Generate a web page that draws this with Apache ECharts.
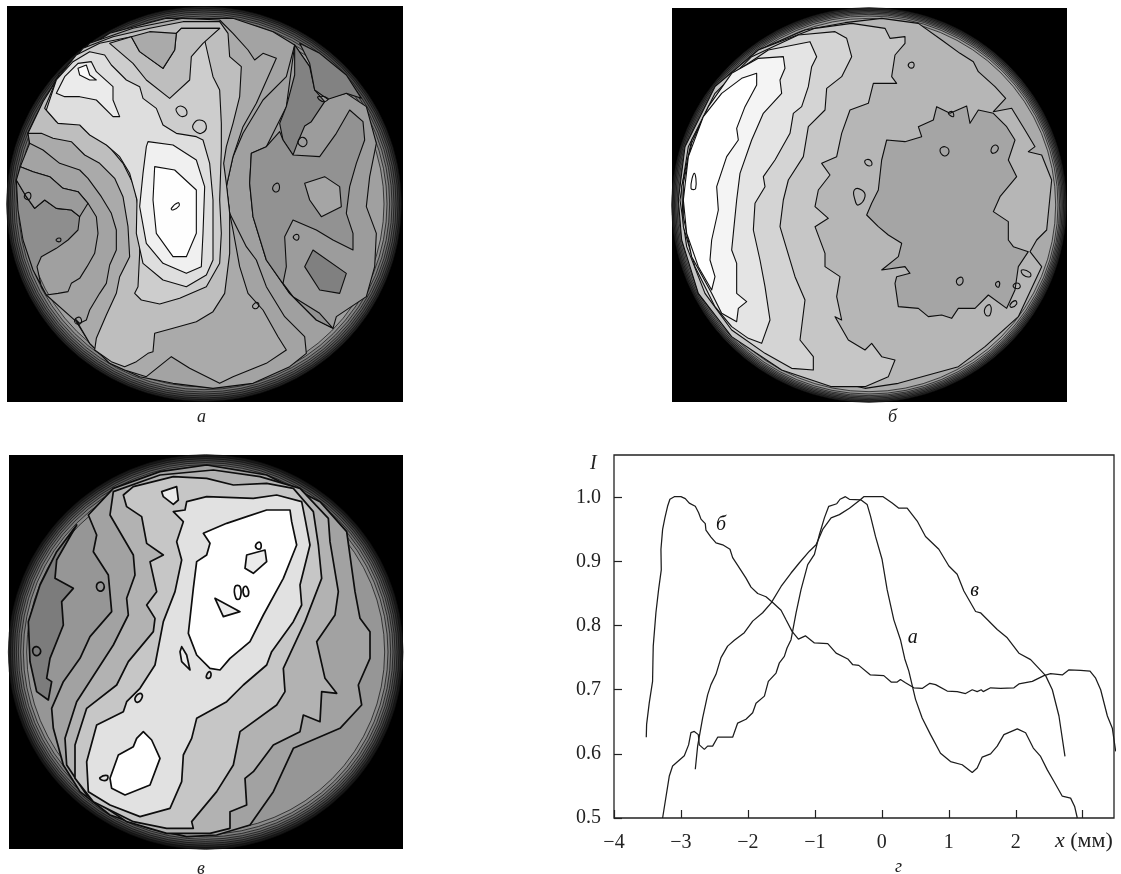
<!DOCTYPE html>
<html><head><meta charset="utf-8">
<style>html,body{margin:0;padding:0;background:#fff}#c{width:1121px;height:874px}</style>
<script src="https://cdn.jsdelivr.net/npm/echarts@6/dist/echarts.min.js"></script></head>
<body><div id="c"></div>
<script>
// ---------- profile curves I(x) ----------
const curveA = [[-3.274,0.5],[-3.175,0.565],[-3.125,0.581],[-2.95,0.597],[-2.886,0.614],[-2.851,0.633],[-2.801,0.635],[-2.741,0.63],[-2.726,0.614],[-2.651,0.607],[-2.602,0.612],[-2.527,0.612],[-2.452,0.626],[-2.228,0.626],[-2.153,0.648],[-2.029,0.654],[-1.929,0.664],[-1.879,0.679],[-1.754,0.69],[-1.695,0.713],[-1.58,0.726],[-1.53,0.742],[-1.456,0.752],[-1.416,0.765],[-1.356,0.778],[-1.281,0.82],[-1.207,0.856],[-1.107,0.895],[-1.007,0.911],[-0.932,0.942],[-0.858,0.968],[-0.793,0.986],[-0.673,0.99],[-0.624,0.997],[-0.544,1.001],[-0.484,0.997],[-0.31,0.996],[-0.22,0.989],[-0.17,0.971],[-0.095,0.939],[0.004,0.903],[0.079,0.856],[0.179,0.809],[0.278,0.778],[0.343,0.748],[0.403,0.729],[0.503,0.685],[0.602,0.656],[0.727,0.63],[0.876,0.601],[1.026,0.588],[1.2,0.583],[1.35,0.571],[1.424,0.578],[1.499,0.595],[1.624,0.6],[1.723,0.612],[1.823,0.63],[2.023,0.639],[2.147,0.633],[2.262,0.609],[2.371,0.596],[2.471,0.575],[2.571,0.557],[2.695,0.534],[2.819,0.531],[2.879,0.518],[2.919,0.5]];
const curveB = [[-3.518,0.626],[-3.513,0.646],[-3.474,0.679],[-3.424,0.713],[-3.419,0.742],[-3.414,0.768],[-3.374,0.82],[-3.334,0.856],[-3.294,0.887],[-3.299,0.919],[-3.274,0.95],[-3.24,0.968],[-3.2,0.986],[-3.165,0.997],[-3.1,1.001],[-3.0,1.001],[-2.935,0.998],[-2.876,0.991],[-2.786,0.986],[-2.736,0.976],[-2.701,0.966],[-2.637,0.959],[-2.627,0.949],[-2.552,0.938],[-2.477,0.929],[-2.377,0.926],[-2.268,0.919],[-2.228,0.906],[-2.128,0.89],[-2.029,0.874],[-1.954,0.86],[-1.854,0.85],[-1.73,0.845],[-1.63,0.836],[-1.505,0.824],[-1.431,0.809],[-1.341,0.791],[-1.246,0.779],[-1.142,0.784],[-1.007,0.773],[-0.808,0.772],[-0.683,0.757],[-0.509,0.748],[-0.434,0.739],[-0.344,0.738],[-0.17,0.723],[0.029,0.722],[0.139,0.712],[0.229,0.712],[0.278,0.716],[0.353,0.711],[0.478,0.703],[0.602,0.702],[0.717,0.71],[0.802,0.708],[0.976,0.698],[1.125,0.697],[1.25,0.694],[1.35,0.7],[1.424,0.697],[1.484,0.7],[1.514,0.697],[1.624,0.703],[1.773,0.702],[1.973,0.703],[2.047,0.709],[2.247,0.713],[2.421,0.722],[2.52,0.725],[2.695,0.723],[2.795,0.731],[2.969,0.73],[3.109,0.729],[3.193,0.718],[3.268,0.7],[3.368,0.659],[3.442,0.64],[3.492,0.604]];
const curveV = [[-2.786,0.576],[-2.751,0.612],[-2.726,0.627],[-2.676,0.656],[-2.602,0.692],[-2.552,0.708],[-2.477,0.724],[-2.402,0.75],[-2.303,0.768],[-2.203,0.777],[-2.054,0.789],[-1.929,0.807],[-1.78,0.82],[-1.655,0.835],[-1.505,0.861],[-1.356,0.882],[-1.231,0.898],[-1.082,0.916],[-0.982,0.926],[-0.883,0.95],[-0.758,0.968],[-0.634,0.973],[-0.484,0.983],[-0.335,0.995],[-0.27,1.001],[0.019,1.001],[0.154,0.991],[0.254,0.983],[0.378,0.983],[0.528,0.963],[0.652,0.939],[0.851,0.919],[1.001,0.893],[1.125,0.88],[1.225,0.854],[1.4,0.822],[1.474,0.82],[1.723,0.794],[1.873,0.781],[2.047,0.757],[2.222,0.747],[2.446,0.722],[2.546,0.7],[2.645,0.659],[2.735,0.596]];
const curveLabels = [[0.463,0.781,'а'],[-2.40,0.958,'б'],[1.385,0.854,'в']];
const yTicks = ['0.5','0.6','0.7','0.8','0.9','1.0'];

// ---------- contour maps: [grey, x,y pairs in image coordinates] ----------
const ringsA = [[592,35],[587,52],[582,68],[576,84],[570,100],[564,115],[557,130],[549,145],[540,160]];
const ringsB = [[592,40],[588,60],[584,80],[580,100],[576,120],[572,140],[567,155],[560,170]];
const ringsV = [[592,25],[586,42],[580,60],[574,78],[568,95],[562,110],[555,125],[547,138],[537,150]];
const discA = [613,612], discB = [612,615], discV = [617,621];

const contoursA = [
 [163,[[140,885],[175,880],[205,875],[215,850],[240,835],[262,800],[285,760],[295,700],[290,650],[265,610],[235,575],[190,565],[150,530],[100,515],[62,500],[90,430],[85,400],[135,325],[170,240],[230,165],[330,100],[500,55],[700,55],[820,95],[885,135],[860,230],[790,300],[730,400],[700,470],[680,560],[690,640],[715,690],[740,740],[770,780],[800,860],[855,950],[915,1010],[920,1060],[870,1100],[760,1150],[640,1165],[520,1150],[420,1130],[330,1090],[270,1030],[230,965]]],
 [142,[[50,540],[80,590],[105,625],[135,600],[170,625],[215,630],[240,650],[235,690],[205,720],[170,745],[125,770],[112,800],[125,860],[140,885],[100,810],[70,720],[55,630]]],
 [155,[[50,540],[62,500],[100,515],[150,530],[190,565],[235,575],[265,610],[240,650],[215,630],[170,625],[135,600],[105,625],[80,590]]],
 [170,[[90,430],[130,450],[180,490],[240,510],[265,535],[305,590],[335,640],[350,690],[350,750],[330,795],[320,850],[300,880],[270,930],[260,960],[240,970],[228,958],[270,1030],[330,1090],[375,1110],[440,1130],[515,1070],[570,1105],[660,1150],[700,1130],[800,1090],[860,1050],[835,1010],[790,930],[745,880],[720,800],[700,690],[690,640],[680,560],[700,470],[730,380],[770,310],[830,175],[790,160],[765,180],[745,150],[700,100],[660,60],[550,55],[400,85],[270,130],[180,220],[130,310],[85,400]]],
 [190,[[85,400],[125,400],[160,415],[215,425],[255,465],[300,490],[345,535],[370,590],[385,680],[390,770],[360,830],[350,880],[320,945],[290,1015],[285,1050],[335,1085],[375,1100],[410,1085],[445,1060],[460,1055],[465,1000],[520,985],[590,965],[640,935],[675,880],[690,760],[690,640],[680,550],[672,490],[680,440],[700,370],[720,290],[725,200],[690,170],[685,100],[660,65],[550,65],[450,85],[340,110],[250,145],[180,225],[130,305]]],
 [205,[[135,325],[170,365],[240,370],[270,400],[320,430],[370,490],[405,560],[420,650],[420,760],[415,860],[405,880],[425,900],[480,912],[540,895],[620,860],[660,790],[665,700],[660,600],[665,450],[665,370],[660,270],[640,230],[615,120],[660,85],[545,85],[530,100],[525,150],[490,205],[420,155],[395,110],[300,130],[230,165],[170,240]]],
 [190,[[330,130],[400,190],[440,240],[510,295],[570,240],[575,170],[610,130],[660,85],[545,85],[530,100],[525,150],[490,205],[420,155],[395,110]]],
 [170,[[395,110],[420,155],[490,205],[525,150],[530,100],[450,95]]],
 [222,[[270,155],[315,165],[335,195],[380,240],[420,260],[430,295],[470,325],[490,375],[530,400],[590,410],[610,420],[630,490],[640,600],[640,780],[620,825],[560,860],[490,840],[430,790],[410,700],[412,600],[390,520],[360,470],[320,435],[270,405],[240,375],[175,370],[140,330],[170,240],[220,185]]],
 [235,[[170,280],[195,290],[240,290],[290,300],[340,350],[360,350],[340,300],[340,260],[290,215],[275,185],[235,190],[195,230]]],
 [250,[[235,205],[260,195],[270,225],[290,240],[270,240],[240,225]]],
 [240,[[445,425],[520,435],[590,480],[615,560],[610,700],[605,800],[560,820],[490,790],[440,730],[420,620],[430,520],[440,440]]],
 [254,[[465,500],[525,510],[590,570],[590,700],[560,770],[520,770],[470,700],[460,600]]],
 [156,[[755,460],[800,440],[860,320],[885,135],[930,200],[945,270],[985,295],[1040,280],[1100,320],[1130,430],[1110,530],[1100,620],[1130,700],[1125,800],[1100,890],[1010,950],[1000,985],[950,960],[870,880],[800,780],[760,650],[750,550]]],
 [130,[[840,370],[860,320],[885,225],[885,135],[930,200],[945,270],[975,305],[935,365],[915,378],[895,425],[880,465],[850,420]]],
 [130,[[930,190],[945,270],[985,298],[1040,280],[1085,295],[1040,225],[960,160],[900,130]]],
 [146,[[755,460],[800,440],[840,395],[850,420],[880,465],[960,470],[1010,400],[1050,330],[1090,365],[1095,420],[1070,490],[1050,560],[1040,640],[1060,700],[1060,750],[1000,720],[950,690],[880,660],[855,710],[860,800],[850,850],[880,890],[960,940],[1000,985],[950,960],[870,880],[800,780],[760,650],[750,550]]],
 [165,[[915,550],[975,530],[1020,560],[1025,620],[965,650],[930,600]]],
 [128,[[940,750],[1040,820],[1020,880],[960,870],[915,800]]]
];
const loopsA = [[[530,325],[550,320],[562,340],[548,350],[535,342]],[[580,375],[600,360],[620,378],[605,400],[585,392]],[[895,425],[910,412],[922,428],[908,440]],[[820,560],[835,550],[838,570],[825,575]],[[75,585],[90,578],[92,595],[80,598]],[[515,625],[535,608],[538,618],[520,630]],[[760,915],[775,908],[775,922],[762,925]],[[225,960],[240,952],[245,968],[232,972]],[[170,718],[182,715],[182,724],[172,724]],[[882,708],[895,704],[896,718],[885,718]],[[955,290],[985,295],[975,305],[960,300]]];

const contoursB = [
 [182,[[540,68],[650,55],[760,70],[830,120],[885,160],[925,185],[940,215],[990,260],[1022,295],[985,335],[1040,325],[1080,390],[1110,440],[1090,455],[1130,465],[1160,540],[1145,690],[1115,720],[1095,755],[1130,800],[1060,950],[960,1040],[880,1100],[700,1150],[600,1165],[400,1120],[200,1000],[100,880],[60,740],[45,600],[70,440],[150,280],[280,150],[420,90]]],
 [198,[[660,85],[675,115],[720,110],[720,130],[690,165],[680,230],[695,250],[625,250],[610,310],[555,330],[530,400],[515,470],[470,490],[495,525],[460,570],[450,620],[490,655],[450,680],[480,760],[480,800],[525,830],[515,890],[530,960],[510,950],[550,1020],[600,1050],[620,1030],[650,1070],[690,1080],[670,1130],[600,1160],[500,1160],[350,1110],[200,1010],[100,880],[50,720],[40,600],[60,440],[150,260],[280,150],[450,85],[560,70]]],
 [212,[[510,95],[545,115],[560,170],[530,230],[485,265],[480,330],[430,380],[415,470],[370,540],[355,600],[345,680],[360,730],[390,830],[420,900],[405,1020],[445,1070],[445,1110],[380,1105],[300,1060],[200,990],[120,880],[65,740],[45,600],[70,440],[150,280],[260,170],[400,105]]],
 [228,[[435,125],[455,170],[440,200],[430,260],[410,320],[385,340],[375,400],[330,480],[295,530],[300,560],[270,610],[265,690],[285,780],[300,860],[315,960],[290,1030],[250,1015],[200,980],[150,920],[90,800],[55,680],[50,560],[80,420],[140,310],[220,210],[310,150]]],
 [244,[[355,170],[360,205],[345,240],[350,280],[295,340],[260,420],[225,520],[215,600],[205,700],[200,750],[215,790],[215,880],[245,905],[220,925],[215,965],[170,940],[140,880],[80,770],[55,650],[55,550],[80,430],[130,320],[200,220],[280,175]]],
 [255,[[275,220],[275,255],[240,320],[215,385],[220,420],[185,470],[155,560],[160,630],[140,720],[135,780],[150,830],[140,870],[100,800],[65,700],[55,600],[70,470],[115,350],[170,280],[230,235]]],
 [165,[[815,320],[855,340],[905,318],[915,370],[940,330],[985,340],[1025,380],[1050,420],[1030,480],[1055,530],[1005,590],[985,635],[1030,665],[1030,720],[1045,740],[1090,755],[1060,800],[1050,870],[1025,925],[970,885],[930,925],[880,925],[860,955],[830,945],[790,950],[760,925],[700,920],[690,850],[695,830],[735,820],[720,800],[650,810],[700,770],[710,730],[670,705],[640,680],[605,645],[620,610],[640,570],[650,480],[665,420],[720,425],[770,410],[760,380],[805,360]]]
];
const loopsB = [[[732,190],[745,188],[745,202],[733,202]],[[825,450],[840,440],[852,455],[838,468]],[[978,450],[990,435],[1000,445],[985,460]],[[600,482],[615,480],[620,495],[605,495]],[[568,570],[590,570],[600,590],[580,615],[570,600]],[[875,840],[890,832],[893,848],[880,855]],[[1070,810],[1095,818],[1095,830],[1075,825]],[[1045,855],[1060,850],[1065,862],[1050,865]],[[1035,915],[1050,902],[1055,912],[1040,922]],[[992,850],[1002,845],[1002,860],[995,860]],[[78,565],[88,520],[92,565]],[[960,925],[975,915],[975,945],[962,945]],[[850,340],[862,335],[865,350]]];

const contoursV = [
 [124,[[85,530],[120,420],[170,320],[230,240],[170,345],[165,400],[220,430],[185,470],[190,540],[150,640],[140,700],[155,710],[145,765],[110,740],[90,650]]],
 [162,[[265,210],[290,270],[280,320],[325,390],[335,500],[270,575],[240,640],[190,710],[155,790],[160,850],[190,960],[240,1040],[330,1110],[450,1150],[560,1175],[650,1170],[750,1140],[820,1040],[880,910],[1020,850],[1085,780],[1075,720],[1110,640],[1110,560],[1080,520],[1065,440],[1040,260],[960,170],[800,90],[620,60],[480,80],[340,130]]],
 [178,[[340,140],[330,210],[400,330],[405,390],[380,460],[385,510],[340,600],[230,770],[195,880],[200,960],[260,1050],[380,1130],[500,1165],[630,1165],[690,1150],[690,1100],[740,1080],[735,1000],[760,980],[820,900],[900,860],[910,810],[960,830],[965,740],[1010,745],[975,700],[950,590],[1005,510],[1015,440],[990,290],[985,220],[900,130],[780,95],[640,75],[480,90]]],
 [198,[[370,150],[380,185],[425,215],[440,295],[490,330],[450,350],[470,440],[440,480],[465,520],[460,560],[385,650],[350,720],[260,790],[225,900],[225,1000],[280,1070],[400,1130],[500,1150],[580,1150],[575,1130],[650,1040],[700,960],[720,860],[830,780],[855,740],[850,670],[915,530],[965,400],[955,300],[940,200],[880,130],[800,115],[700,120],[620,100],[520,95],[400,125]]],
 [225,[[520,200],[550,230],[530,290],[545,345],[525,440],[490,530],[465,660],[420,730],[380,770],[370,800],[290,840],[260,950],[265,1040],[330,1080],[420,1115],[510,1090],[545,1010],[550,930],[575,880],[590,820],[680,770],[730,720],[800,660],[815,620],[880,530],[905,480],[900,420],[930,300],[915,220],[905,170],[830,150],[760,160],[620,155],[560,170],[555,195]]],
 [255,[[610,265],[680,235],[740,215],[800,195],[870,195],[875,230],[890,300],[850,400],[790,510],[750,590],[690,640],[660,675],[630,670],[590,630],[565,565],[580,430],[590,350],[620,330],[630,295]]],
 [255,[[410,880],[430,860],[455,885],[480,940],[450,1020],[375,1050],[335,1030],[330,1000],[355,930],[400,905]]],
 [235,[[740,330],[795,315],[800,350],[760,385],[735,370]]],
 [235,[[645,460],[720,500],[670,515]]],
 [235,[[485,140],[530,125],[535,165],[520,178],[490,155]]],
 [235,[[545,605],[560,630],[570,675],[545,650],[540,620]]]
];
const loopsV = [[[98,615],[110,605],[122,620],[108,632]],[[290,420],[305,412],[312,430],[298,438]],[[405,760],[420,745],[427,755],[412,772]],[[620,690],[630,680],[632,695],[622,700]],[[705,425],[720,425],[720,460],[708,460]],[[730,430],[740,425],[745,450],[733,452]],[[768,298],[780,292],[782,310],[770,310]],[[300,998],[322,992],[320,1005],[305,1005]]];

// ---------- chart ----------
const serif = '"Liberation Serif","Times New Roman",serif';
const chart = echarts.init(document.getElementById('c'), null, {renderer:'canvas'});

function panelSeries(g, disc, rings, polys, loops, lw){
  const poly = {type:'custom',xAxisIndex:g,yAxisIndex:g,silent:true,animation:false,clip:true,
    data:polys.map((p,i)=>[p[1][0][0],p[1][0][1],i]),encode:{x:0,y:1},
    renderItem:(params,api)=>{const p=polys[api.value(2)];
      const c='rgb('+p[0]+','+p[0]+','+p[0]+')';
      return {type:'polygon',shape:{points:p[1].map(q=>api.coord(q))},style:{fill:c,stroke:'#0d0d0d',lineWidth:lw,lineJoin:'round'}};}};
  const ring = {type:'custom',xAxisIndex:g,yAxisIndex:g,silent:true,animation:false,
    data:rings.map(r=>[disc[0],disc[1],r[0],r[1]]),encode:{x:0,y:1},
    renderItem:(params,api)=>{const c=api.coord([api.value(0),api.value(1)]);const r=api.size([api.value(2),0])[0];const v=api.value(3);
      return {type:'circle',shape:{cx:c[0],cy:c[1],r:r},style:{fill:'rgb('+v+','+v+','+v+')',stroke:'#0d0d0d',lineWidth:0.7}};}};
  const loop = {type:'custom',xAxisIndex:g,yAxisIndex:g,silent:true,animation:false,
    data:loops.map((p,i)=>[p[0][0],p[0][1],i]),encode:{x:0,y:1},
    renderItem:(params,api)=>({type:'polygon',shape:{points:loops[api.value(2)].map(q=>api.coord(q)),smooth:0.5},style:{fill:'transparent',stroke:'#0d0d0d',lineWidth:lw}})};
  return [ring,poly,loop];
}
function hiddenAxes(g,x0,x1,y0,y1){
  return [{gridIndex:g,type:'value',min:x0,max:x1,show:false},{gridIndex:g,type:'value',min:y0,max:y1,inverse:true,show:false}];
}
const ax=[hiddenAxes(0,22,1210,18,1206),hiddenAxes(1,21,1206,24,1206),hiddenAxes(2,27,1209,30,1212)];
const line=(d)=>({type:'line',xAxisIndex:3,yAxisIndex:3,data:d,showSymbol:false,clip:false,animation:false,silent:true,lineStyle:{color:'#1c1c1c',width:1.25}});
const caption=(t,x,y)=>({type:'text',left:x,top:y,silent:true,style:{text:t,font:'italic 18px '+serif,fill:'#222'}});

chart.setOption({
  animation:false,
  backgroundColor:'#fff',
  grid:[
    {left:7,top:6,width:396,height:396,show:true,backgroundColor:'#000',borderWidth:0},
    {left:672,top:8,width:395,height:394,show:true,backgroundColor:'#000',borderWidth:0},
    {left:9,top:455,width:394,height:394,show:true,backgroundColor:'#000',borderWidth:0},
    {left:614,top:455,width:500,height:363,show:true,backgroundColor:'#fff',borderColor:'#222',borderWidth:1.3}
  ],
  xAxis:[ax[0][0],ax[1][0],ax[2][0],{gridIndex:3,type:'value',min:-4,max:3.467,interval:1,splitLine:{show:false},
    axisLine:{show:false,onZero:false},axisTick:{inside:true,length:8,lineStyle:{color:'#222',width:1.2}},
    axisLabel:{showMaxLabel:false,margin:15,fontFamily:serif,fontSize:20,color:'#222',
      formatter:v=>v===3?'':String(v).replace('-','\u2212')}}],
  yAxis:[ax[0][1],ax[1][1],ax[2][1],{gridIndex:3,type:'value',min:0.5,max:1.066,interval:0.1,splitLine:{show:false},
    axisLine:{show:false,onZero:false},axisTick:{inside:true,length:8,lineStyle:{color:'#222',width:1.2}},
    axisLabel:{showMaxLabel:false,margin:13,fontFamily:serif,fontSize:20,color:'#222',
      formatter:v=>yTicks[Math.round((v-0.5)*10)]||''}}],
  series:[
    ...panelSeries(0,discA,ringsA,contoursA,loopsA,1.1),
    ...panelSeries(1,discB,ringsB,contoursB,loopsB,1.1),
    ...panelSeries(2,discV,ringsV,contoursV,loopsV,1.7),
    line(curveA),line(curveB),line(curveV),
    {type:'scatter',xAxisIndex:3,yAxisIndex:3,symbolSize:0,silent:true,animation:false,itemStyle:{opacity:1},
      data:curveLabels.map(l=>({value:[l[0],l[1]],name:l[2]})),
      label:{show:true,position:'inside',formatter:p=>p.name,fontFamily:serif,fontStyle:'italic',fontSize:20,color:'#111'}}
  ],
  graphic:[
    caption('а',197,408),caption('б',888,408),caption('в',197,860),caption('г',895,858),
    {type:'text',left:590,top:454,silent:true,style:{text:'I',font:'italic 20px '+serif,fill:'#222'}},
    {type:'text',left:1055,top:830,silent:true,style:{text:'{i|x} (мм)',fill:'#222',font:'22px '+serif,rich:{i:{fontStyle:'italic',fontFamily:serif,fontSize:22,fill:'#222'}}}}
  ]
});
</script></body></html>
